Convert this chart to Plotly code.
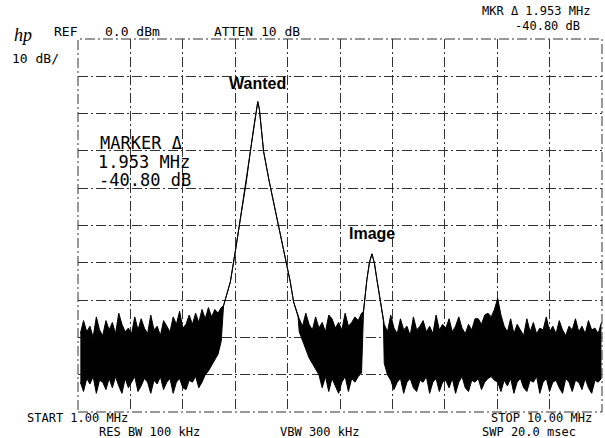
import numpy as np
import plotly.graph_objects as go

# ---------------- data ----------------
start_mhz, stop_mhz = 1.0, 10.0
ref_dbm, db_per_div = 0.0, 10.0
n_hdiv, n_vdiv = 10, 10

# noise floor segments: (start MHz, stop MHz), upper and lower trace envelope in dBm
noise_left_range = (1.04, 3.46)
noise_left_top = [-79, -75.5, -78.5, -77, -80, -74.5, -78, -79.5, -75.5, -78,
                  -76, -79, -73.5, -76.5, -78.5, -77.5, -79, -74.5, -78, -75,
                  -77.5, -79, -74, -78, -77, -79.5, -75.5, -77, -78.5, -74.5,
                  -76.5, -73, -77.5, -76.5, -74, -76.5, -73.5, -76, -72.5, -75,
                  -72, -74.5, -72.5, -73.5, -72]
noise_left_bot = [-92, -94.5, -91, -92.5, -90.5, -95, -91.5, -92, -94, -91,
                  -93.5, -90.5, -93, -95, -91, -93.5, -92, -90.5, -94.5, -93,
                  -91, -92, -95, -91.5, -92.5, -90.5, -94, -92, -91, -95,
                  -92, -91, -93.5, -94, -91.5, -92, -90.5, -93.5, -92, -90,
                  -89, -87.5, -86, -84.5, -81]

wanted_mhz = [3.50, 3.617, 3.703, 3.836, 3.891, 3.960, 4.02, 4.06, 4.088,
              4.115, 4.15, 4.188, 4.286, 4.358, 4.538, 4.646, 4.703, 4.78]
wanted_dbm = [-71.5, -65.1, -57.0, -43.6, -38.3, -30.2, -23.5, -18.8, -16.8,
              -18.8, -24.0, -30.2, -38.3, -43.6, -57.0, -65.1, -70.5, -74.5]

noise_mid_range = (4.80, 5.87)
noise_mid_top = [-75, -77, -73.5, -76.5, -78, -74.5, -77.5, -76, -78.5, -74,
                 -75, -77.5, -76, -78, -73.5, -77, -76, -74.5, -75.5, -73.5]
noise_mid_bot = [-78.5, -81, -83.5, -85.5, -87, -88.5, -90, -93.5, -90.5, -94.5,
                 -91, -93, -95, -92, -90.5, -94.5, -91, -92, -90.5, -89.5]

image_mhz = [5.904, 5.962, 6.005, 6.048, 6.09, 6.134, 6.22, 6.245]
image_dbm = [-73.0, -64.5, -60.0, -57.6, -60.0, -64.5, -73.0, -75.5]

noise_right_range = (6.26, 9.99)
noise_right_top = [-76.5, -78.5, -74, -77.5, -79, -75, -78, -77, -79.5, -74.5,
                   -78, -77, -75.5, -78.5, -77, -79, -74, -78, -76.5, -77.5,
                   -75, -78.5, -77, -74.5, -77.5, -79, -76.5, -78, -75, -75,
                   -76.5, -74, -73.5, -74.5, -72.5, -69.5, -74, -77, -78.5, -75,
                   -79, -76.5, -78, -79.5, -75, -78.5, -76, -79, -77.5, -78,
                   -74.5, -78.5, -77, -79, -75.5, -78, -79.5, -77, -78, -75,
                   -78.5, -77, -79, -75.5, -78, -77.5, -79, -76]
noise_right_bot = [-87, -90, -91.5, -94, -92, -91, -95, -92, -91, -93.5,
                   -94.5, -91.5, -92, -90.5, -95, -92, -91, -94.5, -92, -91.5,
                   -93.5, -91, -95, -92, -90.5, -93.5, -94.5, -91.5, -92, -91,
                   -94, -92, -91, -90.5, -91.5, -92, -94.5, -91.5, -93, -91,
                   -95, -92, -91, -93.5, -94.5, -91.5, -92, -90.5, -95, -92,
                   -91, -94.5, -92, -91.5, -93.5, -95, -91, -92, -94.5, -91.5,
                   -92, -94, -91, -93.5, -95, -91.5, -92, -91]

marker_delta_mhz = 1.953
marker_delta_db = -40.80

# ---------------- assemble trace ----------------
def seg_freq(rng, vals):
    return list(np.linspace(rng[0], rng[1], len(vals)))

freq = (seg_freq(noise_left_range, noise_left_top) + wanted_mhz +
        seg_freq(noise_mid_range, noise_mid_top) + image_mhz +
        seg_freq(noise_right_range, noise_right_top))
upper = noise_left_top + wanted_dbm + noise_mid_top + image_dbm + noise_right_top
lower = noise_left_bot + wanted_dbm + noise_mid_bot + image_dbm + noise_right_bot

# ---------------- layout geometry ----------------
W, H = 605, 438
L, R, T, B = 78, 3, 39, 26
PW, PH = W - L - R, H - T - B


def px(x):
    return (x - L) / PW


def py(y):
    return 1 - (y - T) / PH


fig = go.Figure()
fig.add_trace(go.Scatter(x=freq, y=lower, mode="lines",
                         line=dict(color="black", width=1), hoverinfo="skip",
                         showlegend=False))
fig.add_trace(go.Scatter(x=freq, y=upper, mode="lines", fill="tonexty",
                         fillcolor="black", line=dict(color="black", width=1),
                         hoverinfo="skip", showlegend=False))

dash = "10px,3px,2px,3px"
grid = dict(showgrid=True, gridcolor="#333333", gridwidth=1, griddash=dash,
            zeroline=False, showticklabels=False, ticks="", showline=False)
fig.update_xaxes(range=[start_mhz, stop_mhz], tick0=start_mhz,
                 dtick=(stop_mhz - start_mhz) / n_hdiv, **grid)
fig.update_yaxes(range=[ref_dbm - n_vdiv * db_per_div, ref_dbm], tick0=ref_dbm,
                 dtick=db_per_div, **grid)

fig.add_shape(type="rect", xref="paper", yref="paper", x0=0, x1=1, y0=0, y1=1,
              line=dict(color="#333333", width=1, dash=dash))

mono = "DejaVu Sans Mono"
ann = []


def txt(s, x, y, anchor="center", size=13, family=mono, **kw):
    ann.append(dict(text=s, x=px(x), y=py(y), xref="paper", yref="paper",
                    xanchor=anchor, yanchor="middle", showarrow=False,
                    borderpad=0,
                    font=dict(family=family, size=size, color="black"), **kw))


# header
txt("MKR \u0394 %.3f MHz" % marker_delta_mhz, 536, 11, size=12)
txt("%.2f dB" % marker_delta_db, 547, 26, size=12)
txt("REF", 66, 32)
txt("%.1f dBm" % ref_dbm, 132, 32)
txt("ATTEN 10 dB", 257, 32)
txt("<i>hp</i>", 23, 35, size=18, family="Liberation Serif")
txt("%d dB/" % db_per_div, 35, 58)

# marker readout box inside the graticule
txt("MARKER \u0394", 141, 143, size=17)
txt("%.3f MHz" % marker_delta_mhz, 144, 161.5, size=17)
txt("%.2f dB" % marker_delta_db, 145, 180, size=17)

# footer
txt("START %.2f MHz" % start_mhz, 77, 418, size=12)
txt("RES BW 100 kHz", 149, 432, size=12)
txt("VBW 300 kHz", 319, 432, size=12)
txt("STOP %.2f MHz" % stop_mhz, 541, 418, size=12)
txt("SWP 20.0 msec", 529, 432, size=12)

# peak labels anchored at the peaks
ann.append(dict(text="<b>Wanted</b>", x=wanted_mhz[int(np.argmax(wanted_dbm))],
                y=max(wanted_dbm), xref="x", yref="y", yshift=18,
                showarrow=False, font=dict(family="Liberation Sans", size=16,
                                           color="black")))
ann.append(dict(text="<b>Image</b>", x=image_mhz[int(np.argmax(image_dbm))],
                y=max(image_dbm), xref="x", yref="y", yshift=20,
                showarrow=False, font=dict(family="Liberation Sans", size=16,
                                           color="black")))

fig.update_layout(width=W, height=H, margin=dict(l=L, r=R, t=T, b=B),
                  paper_bgcolor="white", plot_bgcolor="white",
                  annotations=ann, showlegend=False)

fig.write_html("out.html", config={"displayModeBar": False},
               post_script="document.body.style.margin='0px';"
                           "document.body.style.overflow='hidden';")
